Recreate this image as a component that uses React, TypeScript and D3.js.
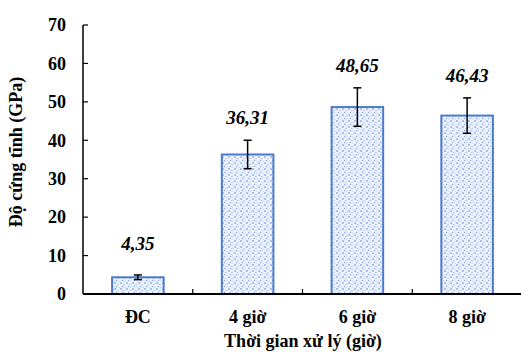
import React from "react";
import * as d3 from "d3";

const categories = ["ĐC", "4 giờ", "6 giờ", "8 giờ"];
const means = [4.35, 36.31, 48.65, 46.43];
const errors = [0.6, 3.7, 5.0, 4.6];
const valueLabels = ["4,35", "36,31", "48,65", "46,43"];
const yTicks = [0, 10, 20, 30, 40, 50, 60, 70];

const W = 521;
const H = 352;
const margin = { left: 83, right: 0, top: 25, bottom: 58 };
const FONT = "Liberation Serif";

export default function App() {
  const x = d3
    .scaleBand<string>()
    .domain(categories)
    .range([margin.left, 522])
    .paddingInner(0)
    .paddingOuter(0);
  const y = d3.scaleLinear().domain([0, 70]).range([H - margin.bottom, margin.top]);
  const barW = x.bandwidth() * 0.47;
  const y0 = y(0);
  const ts = { fontFamily: FONT, fontWeight: 700 } as const;

  return (
    <svg
      width={W}
      height={H}
      style={{ position: "absolute", left: 0, top: 0, background: "#fff" }}
    >
      <defs>
        <pattern id="dots" width="6" height="6" patternUnits="userSpaceOnUse">
          <rect width="6" height="6" fill="#eef2fa" />
          <circle cx="1" cy="1" r="0.8" fill="#5b84cf" />
          <circle cx="4" cy="2.5" r="0.7" fill="#9db5e2" />
          <circle cx="2.5" cy="4.5" r="0.7" fill="#7f9fd8" />
          <circle cx="5" cy="5.2" r="0.6" fill="#b7c8ea" />
        </pattern>
      </defs>

      {categories.map((c, i) => {
        const cx = (x(c) as number) + x.bandwidth() / 2;
        return (
          <rect
            key={c}
            x={cx - barW / 2}
            y={y(means[i])}
            width={barW}
            height={y0 - y(means[i])}
            fill="url(#dots)"
            stroke="#4a7bd0"
            strokeWidth={2}
          />
        );
      })}

      {categories.map((c, i) => {
        const cx = (x(c) as number) + x.bandwidth() / 2;
        const hi = y(means[i] + errors[i]);
        const lo = y(means[i] - errors[i]);
        return (
          <g key={c} stroke="#000" strokeWidth={1.5}>
            <line x1={cx} x2={cx} y1={hi} y2={lo} />
            <line x1={cx - 4} x2={cx + 4} y1={hi} y2={hi} />
            <line x1={cx - 4} x2={cx + 4} y1={lo} y2={lo} />
          </g>
        );
      })}

      {categories.map((c, i) => {
        const cx = (x(c) as number) + x.bandwidth() / 2;
        const ly = Math.min(y(means[i] + errors[i]) - 16, y0 - 44);
        return (
          <text
            key={c}
            x={cx}
            y={ly}
            textAnchor="middle"
            fontSize={19}
            style={{ ...ts, fontStyle: "italic" }}
            fill="#000"
          >
            {valueLabels[i]}
          </text>
        );
      })}

      <line x1={margin.left} x2={margin.left} y1={y(70)} y2={y0} stroke="#000" strokeWidth={1.5} />
      {yTicks.map((t) => (
        <g key={t}>
          <line x1={margin.left} x2={margin.left + 5} y1={y(t)} y2={y(t)} stroke="#000" strokeWidth={1.2} />
          <text
            x={margin.left - 17}
            y={y(t)}
            dy="0.35em"
            textAnchor="end"
            fontSize={18}
            style={ts}
            fill="#000"
          >
            {t}
          </text>
        </g>
      ))}

      <line x1={margin.left} x2={W} y1={y0} y2={y0} stroke="#000" strokeWidth={2} />
      {categories.map((c) => {
        const xe = (x(c) as number) + x.bandwidth();
        return (
          <line key={c} x1={xe} x2={xe} y1={y0} y2={y0 - 5} stroke="#000" strokeWidth={1.2} />
        );
      })}
      {categories.map((c) => {
        const cx = (x(c) as number) + x.bandwidth() / 2;
        return (
          <text key={c} x={cx} y={323} textAnchor="middle" fontSize={18} style={ts} fill="#000">
            {c}
          </text>
        );
      })}

      <text x={303} y={347} textAnchor="middle" fontSize={18} style={ts} fill="#000">
        Thời gian xử lý (giờ)
      </text>
      <text
        transform={`translate(22, 152) rotate(-90)`}
        textAnchor="middle"
        fontSize={18}
        style={ts}
        fill="#000"
      >
        Độ cứng tĩnh (GPa)
      </text>
    </svg>
  );
}
